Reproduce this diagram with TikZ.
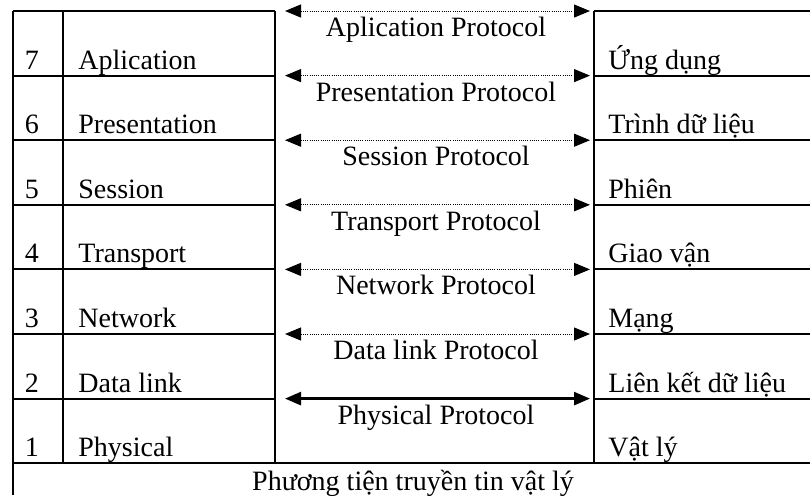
\documentclass[tikz,border=0pt]{standalone}
\usepackage{fontspec}
\setmainfont{Liberation Serif}
\usetikzlibrary{arrows.meta}
\begin{document}
\begin{tikzpicture}[x=0.5pt,y=-0.5pt,
  hrule/.style={line width=1pt},
  vrule/.style={line width=0.55pt},
  txt/.style={font=\fontsize{14}{16}\selectfont, inner sep=0pt},
  lbl/.style={txt, anchor=base west},
  num/.style={txt, anchor=base},
  proto/.style={txt, anchor=base},
  tip/.tip={Triangle[length=8pt,width=6.5pt]},
  parrow/.style={tip-tip, dash pattern=on 0.5pt off 0.6pt, line width=0.5pt},
  sarrow/.style={tip-tip, line width=1.3pt},
]
\useasboundingbox (0,0) rectangle (810,495);
% frame lines
\def\rowh{64.6}
\foreach \k in {0,...,6}{
  \draw[hrule] (13,{11+\k*\rowh}) -- (275,{11+\k*\rowh});
  \draw[hrule] (594,{11+\k*\rowh}) -- (810,{11+\k*\rowh});
}
\draw[hrule] (13,{11+7*\rowh}) -- (810,{11+7*\rowh});
\draw[vrule] (13,11) -- (13,495);
\draw[vrule] (63,11) -- (63,{11+7*\rowh});
\draw[vrule] (275,11) -- (275,{11+7*\rowh});
\draw[vrule] (594,11) -- (594,{11+7*\rowh});
% rows
\foreach \k/\n/\en/\vn/\pr in {
  0/7/Aplication/Ứng dụng/Aplication Protocol,
  1/6/Presentation/Trình dữ liệu/Presentation Protocol,
  2/5/Session/Phiên/Session Protocol,
  3/4/Transport/Giao vận/Transport Protocol,
  4/3/Network/Mạng/Network Protocol,
  5/2/Data link/Liên kết dữ liệu/Data link Protocol,
  6/1/Physical/Vật lý/Physical Protocol}{
  \node[num] (n\n) at (32,{11+(\k+1)*\rowh-6.5}) {\n};
  \node[lbl] (l\n) at (78,{11+(\k+1)*\rowh-6.5}) {\en};
  \node[lbl] (r\n) at (608,{11+(\k+1)*\rowh-6.5}) {\vn};
  \node[proto] (p\n) at (436,{11+\k*\rowh+25.5}) {\pr};
  \coordinate (aL\n) at (285,{11+\k*\rowh});
  \coordinate (aR\n) at (590,{11+\k*\rowh});
}
\foreach \n in {7,6,5,4,3,2}{
  \draw[parrow] (aL\n) -- (aR\n);
}
\draw[sarrow] (aL1) -- (aR1);
\node[proto] (medium) at (413,490) {Phương tiện truyền tin vật lý};
\end{tikzpicture}
\end{document}
